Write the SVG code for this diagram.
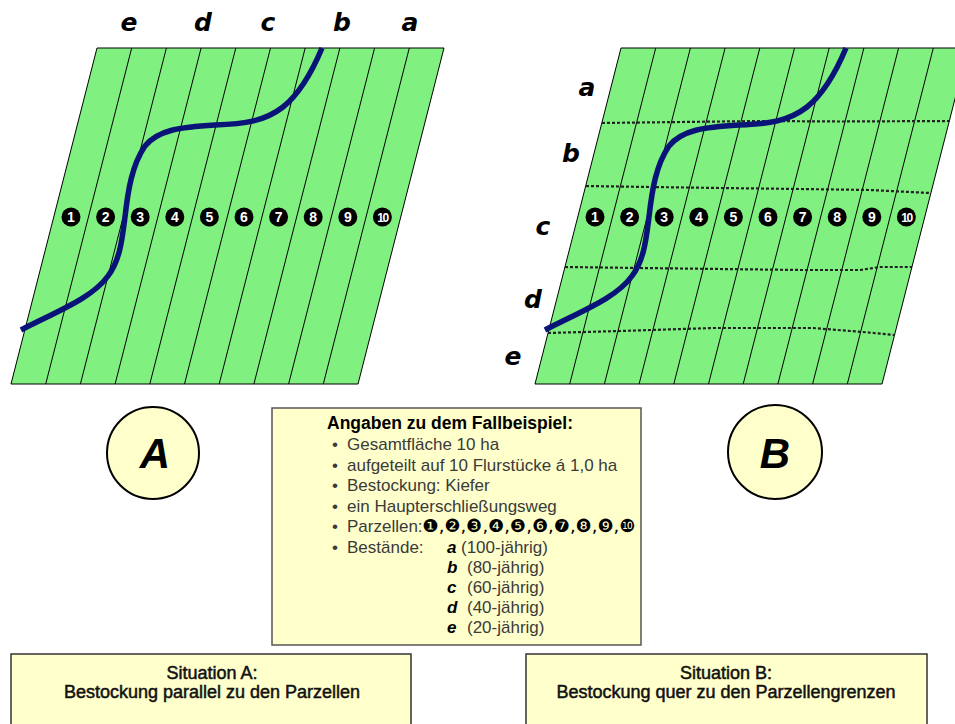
<svg xmlns="http://www.w3.org/2000/svg" width="955" height="724" viewBox="0 0 955 724">
  <style>
    .field { fill: #80f080; stroke: #000; stroke-width: 1; }
    .strip { fill: none; stroke: #000; stroke-width: 1; }
    .road { fill: none; stroke: #0a1478; stroke-width: 5.5; stroke-linecap: butt; }
    .stand { fill: none; stroke: #222; stroke-width: 2.2; stroke-dasharray: 3 2; }
    .num { fill: #000; }
    .numtxt { fill: #fff; font-family: "Liberation Sans", Arial, sans-serif; font-size: 14px; font-weight: bold; text-anchor: middle; }
    .lbl { font-family: "DejaVu Sans", sans-serif; font-size: 25px; font-style: italic; font-weight: bold; fill: #000; text-anchor: middle; }
    .badge { fill: #ffffcc; stroke: #000; stroke-width: 2; }
    .badgetxt { font-family: "Liberation Sans", Arial, sans-serif; font-size: 42px; font-style: italic; font-weight: bold; text-anchor: middle; fill: #000; }
    .box { fill: #ffffcc; stroke: #555; stroke-width: 1.5; }
    .info { font-family: "Liberation Sans", "DejaVu Sans", Arial, sans-serif; font-size: 17px; fill: #3a3a3a; }
    .title { font-weight: bold; fill: #000; font-size: 17.5px; }
    .key { font-weight: bold; font-style: italic; fill: #000; }
    .sit { font-family: "Liberation Sans", Arial, sans-serif; font-size: 18px; fill: #111; text-anchor: middle; stroke: #111; stroke-width: 0.5; }
  </style>
  <defs>
    <!-- one field: parallelogram split into 10 strips -->
    <g id="parcels">
      <polygon class="field" points="97,48 444,48 358,384 11,384"/>
      <path class="strip" d="M131.7,48 L45.7,384 M166.4,48 L80.4,384 M201.1,48 L115.1,384 M235.8,48 L149.8,384 M270.5,48 L184.5,384 M305.2,48 L219.2,384 M339.9,48 L253.9,384 M374.6,48 L288.6,384 M409.3,48 L323.3,384"/>
    </g>
    <!-- parcel numbers 1..10 -->
    <g id="numbers">
      <circle class="num" cx="71" cy="217" r="9.5"/><text class="numtxt" x="71" y="222">1</text>
      <circle class="num" cx="105.6" cy="217" r="9.5"/><text class="numtxt" x="105.6" y="222">2</text>
      <circle class="num" cx="140.2" cy="217" r="9.5"/><text class="numtxt" x="140.2" y="222">3</text>
      <circle class="num" cx="174.8" cy="217" r="9.5"/><text class="numtxt" x="174.8" y="222">4</text>
      <circle class="num" cx="209.4" cy="217" r="9.5"/><text class="numtxt" x="209.4" y="222">5</text>
      <circle class="num" cx="244" cy="217" r="9.5"/><text class="numtxt" x="244" y="222">6</text>
      <circle class="num" cx="278.6" cy="217" r="9.5"/><text class="numtxt" x="278.6" y="222">7</text>
      <circle class="num" cx="313.2" cy="217" r="9.5"/><text class="numtxt" x="313.2" y="222">8</text>
      <circle class="num" cx="347.8" cy="217" r="9.5"/><text class="numtxt" x="347.8" y="222">9</text>
      <circle class="num" cx="382.4" cy="217" r="9.5"/><text class="numtxt" x="382.4" y="221.5" style="font-size:12px;letter-spacing:-1.5px">10</text>
    </g>
    <!-- main access road -->
    <path id="roadPath" class="road" d="M21,330 C60,310 92,298 108,276 C120,260 122,240 125,217 C128,190 132,165 145,146 C158,130 180,127 215,125 C245,124 265,121 283,107 C298,95 312,72 322,48"/>
  </defs>

  <!-- Situation A: stands run parallel to the parcels -->
  <g id="fieldA">
    <use href="#parcels"/>
    <use href="#numbers"/>
    <use href="#roadPath"/>
    <text class="lbl" x="129" y="31">e</text>
    <text class="lbl" x="203" y="31">d</text>
    <text class="lbl" x="268" y="31">c</text>
    <text class="lbl" x="342" y="31">b</text>
    <text class="lbl" x="410" y="31">a</text>
  </g>

  <!-- Situation B: stands run across the parcel boundaries -->
  <g id="fieldB">
    <g transform="translate(524,0)">
      <use href="#parcels"/>
    </g>
    <g id="standBorders">
      <polyline class="stand" points="602,123 680,122 760,121 840,121.5 951,121"/>
      <polyline class="stand" points="586,186 650,187 720,188 800,189 870,190 930,193"/>
      <polyline class="stand" points="565,267 640,268 720,269 800,270 860,270 880,267 912,267"/>
      <polyline class="stand" points="548,333 620,331 713,328 813,328 863,332 894,335"/>
    </g>
    <g transform="translate(524,0)">
      <use href="#numbers"/>
      <use href="#roadPath"/>
    </g>
    <text class="lbl" x="587" y="96">a</text>
    <text class="lbl" x="571" y="162">b</text>
    <text class="lbl" x="543" y="235">c</text>
    <text class="lbl" x="533" y="308">d</text>
    <text class="lbl" x="513" y="365">e</text>
  </g>

  <g id="badgeA">
    <circle class="badge" cx="153" cy="453" r="46"/>
    <text class="badgetxt" x="155" y="468">A</text>
  </g>
  <g id="badgeB">
    <circle class="badge" cx="775" cy="452" r="47"/>
    <text class="badgetxt" x="775" y="467.5">B</text>
  </g>

  <!-- case study data -->
  <g id="infoBox">
    <rect class="box" x="272" y="408" width="369" height="237"/>
    <g class="info">
      <text class="title" x="327" y="429">Angaben zu dem Fallbeispiel:</text>
      <text x="335" y="450" text-anchor="middle">•</text><text x="347" y="450">Gesamtfläche 10 ha</text>
      <text x="335" y="470.5" text-anchor="middle">•</text><text x="347" y="470.5">aufgeteilt auf 10 Flurstücke á 1,0 ha</text>
      <text x="335" y="491" text-anchor="middle">•</text><text x="347" y="491">Bestockung: Kiefer</text>
      <text x="335" y="511.5" text-anchor="middle">•</text><text x="347" y="511.5">ein Haupterschließungsweg</text>
      <text x="335" y="532" text-anchor="middle">•</text><text x="347" y="532">Parzellen:<tspan fill="#000" font-family="DejaVu Sans, sans-serif" font-size="18px">❶,❷,❸,❹,❺,❻,❼,❽,❾,❿</tspan></text>
      <text x="335" y="552.5" text-anchor="middle">•</text><text x="347" y="552.5">Bestände:</text>
      <text class="key" x="447" y="552.5">a</text><text x="461" y="552.5">(100-jährig)</text>
      <text class="key" x="447" y="573">b</text><text x="467" y="573">(80-jährig)</text>
      <text class="key" x="447" y="593">c</text><text x="467" y="593">(60-jährig)</text>
      <text class="key" x="447" y="613">d</text><text x="467" y="613">(40-jährig)</text>
      <text class="key" x="447" y="633">e</text><text x="467" y="633">(20-jährig)</text>
    </g>
  </g>

  <g id="situationA">
    <rect class="box" x="11" y="654" width="400" height="80" style="stroke:#333"/>
    <text class="sit" x="212" y="679">Situation A:</text>
    <text class="sit" x="212" y="698">Bestockung parallel zu den Parzellen</text>
  </g>
  <g id="situationB">
    <rect class="box" x="526" y="654" width="401" height="80" style="stroke:#333"/>
    <text class="sit" x="726" y="679">Situation B:</text>
    <text class="sit" x="726" y="698">Bestockung quer zu den Parzellengrenzen</text>
  </g>
</svg>
